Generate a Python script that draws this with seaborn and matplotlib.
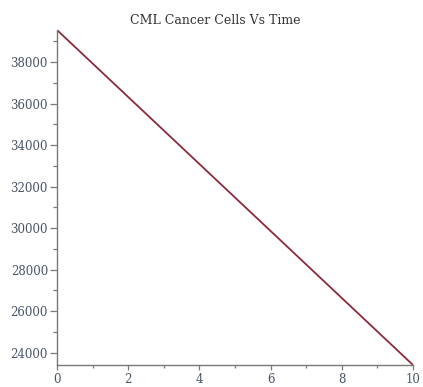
import matplotlib
matplotlib.use("Agg")
import matplotlib.pyplot as plt
import seaborn as sns
import pandas as pd
from matplotlib.ticker import MultipleLocator

time = [0, 10]
cells = [39550, 23400]
x_ticks = [0, 2, 4, 6, 8, 10]
y_ticks = [24000, 26000, 28000, 30000, 32000, 34000, 36000, 38000]

sns.set_style("white")
plt.rcParams['font.family'] = ['DejaVu Serif', 'Liberation Serif']

df = pd.DataFrame({"time": time, "cells": cells})

fig = plt.figure(figsize=(4.23, 3.87), dpi=100)
ax = fig.add_axes([57/423, (387-365)/387, 356/423, (365-30)/387])
sns.lineplot(data=df, x="time", y="cells", ax=ax, color="#8c2a3c", linewidth=1.3)

ax.set_xlim(0, 10)
ax.set_ylim(23400, 39550)
ax.set_xticks(x_ticks)
ax.set_yticks(y_ticks)
ax.xaxis.set_minor_locator(MultipleLocator(1))
ax.yaxis.set_minor_locator(MultipleLocator(1000))
ax.set_xlabel("")
ax.set_ylabel("")
for s in ["top", "right"]:
    ax.spines[s].set_visible(False)
for s in ["left", "bottom"]:
    ax.spines[s].set_color("#787878")
    ax.spines[s].set_linewidth(1.0)
ax.tick_params(axis="both", which="both", bottom=True, left=True, top=False, right=False)
ax.tick_params(axis="y", which="major", length=5, width=0.9, color="#787878",
               labelsize=8.5, labelcolor="#4a5566", direction="out", pad=1.5)
ax.tick_params(axis="y", which="minor", length=3, width=0.9, color="#787878", direction="out")
ax.tick_params(axis="x", which="major", length=3.5, width=0.9, color="#787878",
               labelsize=8.5, labelcolor="#4a5566", direction="out", pad=2.5)
ax.tick_params(axis="x", which="minor", length=2, width=0.9, color="#787878", direction="out")
ax.set_title("CML Cancer Cells Vs Time", fontsize=9, color="#333333", pad=4,
             x=(215 - 57) / 356)

fig.savefig("out.png", dpi=100)
